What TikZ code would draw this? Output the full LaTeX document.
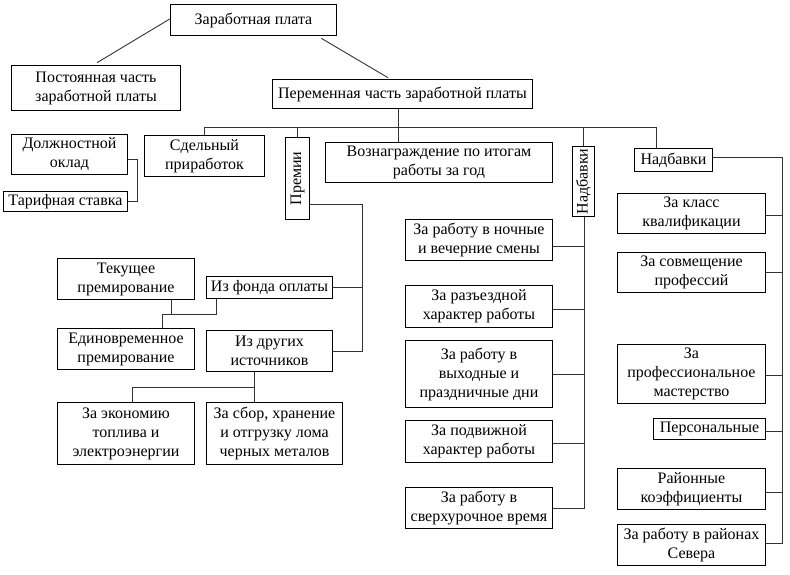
\documentclass[tikz,border=0pt]{standalone}
\usepackage{fontspec}
\setmainfont{Liberation Serif}
\usepackage{graphicx}
\usetikzlibrary{calc}
\tikzset{
  box/.style={draw=black, line width=1.6pt, inner sep=1.5pt, align=center, fill=white,
    font=\fontsize{16}{19}\selectfont},
  conn/.style={draw=black!80, line width=0.9pt}
}
\newcommand\bx[6]{\node[box,minimum width=#4pt,minimum height=#5pt] (#1) at (#2,-#3) {#6};}
\begin{document}
\begin{tikzpicture}[x=1pt,y=1pt]
\fill[white] (0,0) rectangle (790,-575);
\useasboundingbox (0,0) rectangle (790,-575);
\bx{zp}{253.5}{20}{166}{31}{Заработная плата}
\bx{post}{96}{88}{169}{45}{Постоянная часть\\заработной платы}
\bx{perem}{402.5}{94}{260}{29}{Переменная часть заработной платы}
\bx{dolzh}{69.5}{154.5}{116}{40}{Должностной\\оклад}
\bx{tarif}{65.5}{201.5}{124}{20}{Тарифная ставка}
\bx{sdel}{204.5}{156}{120}{41}{Сдельный\\приработок}
\bx{premii}{297.5}{178.5}{24}{82}{\rotatebox{90}{Премии}}
\bx{vozn}{439}{162.5}{227}{40}{Вознаграждение по итогам\\работы за год}
\bx{nadbV}{583.5}{181.5}{22}{70}{\rotatebox{90}{Надбавки}}
\bx{nadbH}{673.5}{160}{78}{23}{Надбавки}
\bx{klass}{691.5}{213.5}{148}{40}{За класс\\квалификации}
\bx{sovm}{691.5}{272.5}{148}{40}{За совмещение\\профессий}
\bx{prof}{691.5}{374}{148}{59}{За\\профессиональное\\мастерство}
\bx{pers}{709.5}{429}{112}{21}{Персональные}
\bx{rayon}{691.5}{489}{148}{41}{Районные\\коэффициенты}
\bx{sever}{691.5}{545}{148}{41}{За работу в районах\\Севера}
\bx{noch}{479}{240}{147}{41}{За работу в ночные\\и вечерние смены}
\bx{razezd}{479}{306.5}{147}{42}{За разъездной\\характер работы}
\bx{vyh}{479}{374}{147}{67}{За работу в\\выходные и\\праздничные дни}
\bx{podv}{479}{441.5}{147}{42}{За подвижной\\характер работы}
\bx{sverh}{479}{508}{147}{41}{За работу в\\сверхурочное время}
\bx{tek}{126}{279}{137}{41}{Текущее\\премирование}
\bx{fond}{269.5}{287.5}{126}{22}{Из фонда оплаты}
\bx{edin}{126}{349}{137}{41}{Единовременное\\премирование}
\bx{drug}{269.5}{351}{126}{41}{Из других\\источников}
\bx{ekon}{126}{433.5}{137}{62}{За экономию\\топлива и\\электроэнергии}
\bx{sbor}{274.5}{433.5}{136}{62}{За сбор, хранение\\и отгрузку лома\\черных металов}
% top
\draw[conn] ([yshift=1pt]zp.west) -- ([shift={(1pt,2pt)}]post.north);
\draw[conn] ([shift={(-16pt,-2pt)}]zp.south east) -- ([shift={(-14.5pt,1pt)}]perem.north);
% bus
\coordinate (bus) at (398,-127);
\coordinate (busR) at (656,-127);
\draw[conn] (bus |- perem.south) -- (bus |- vozn.north);
\draw[conn] (sdel.north) |- (busR) -- (busR |- nadbH.north);
\draw[conn] (premii.north) -- (premii.north |- bus);
\draw[conn] (nadbV.north) -- (nadbV.north |- bus);
% dolzh / tarif
\coordinate (dt) at (137,-159);
\draw[conn] (dolzh.east |- dt) -- (dt) |- (tarif.east);
% premii
\coordinate (pv) at (362,-204);
\draw[conn] (premii.east |- pv) -- (pv) |- (drug.east);
\draw[conn] (fond.east) -- (fond.east -| pv);
% tek / edin / fond
\coordinate (h1) at (162,-314);
\coordinate (h2) at (216,-314);
\draw[conn] (h1 |- edin.north) -- (h1) -- (h2) -- (h2 |- fond.south);
\coordinate (h3) at (171,-314);
\draw[conn] (h3 |- tek.south) -- (h3);
% drug
\coordinate (d0) at (132,-387);
\coordinate (d1) at (254,-387);
\draw[conn] (d1 |- drug.south) -- (d1 |- sbor.north);
\draw[conn] (d1) -- (d0) -- (d0 |- ekon.north);
% nadbV column
\coordinate (nv) at (584,-508);
\draw[conn] (nv |- nadbV.south) -- (nv) -- (sverh.east |- nv);
\draw[conn] ([yshift=-6pt]noch.east) -- ([yshift=-6pt]noch.east -| nv);
\draw[conn] ([yshift=-2.5pt]razezd.east) -- ([yshift=-2.5pt]razezd.east -| nv);
\draw[conn] (vyh.east) -- (vyh.east -| nv);
\draw[conn] ([yshift=-1.5pt]podv.east) -- ([yshift=-1.5pt]podv.east -| nv);
% nadbH column
\coordinate (nr) at (782,-157);
\draw[conn] ([yshift=3pt]nadbH.east) -- (nr) |- ([yshift=2pt]sever.east);
\draw[conn] ([yshift=-1.5pt]klass.east) -- ([yshift=-1.5pt]klass.east -| nr);
\draw[conn] (sovm.east) -- (sovm.east -| nr);
\draw[conn] ([yshift=-1pt]prof.east) -- ([yshift=-1pt]prof.east -| nr);
\draw[conn] ([yshift=-2pt]pers.east) -- ([yshift=-2pt]pers.east -| nr);
\draw[conn] ([yshift=-3pt]rayon.east) -- ([yshift=-3pt]rayon.east -| nr);
\end{tikzpicture}
\end{document}
